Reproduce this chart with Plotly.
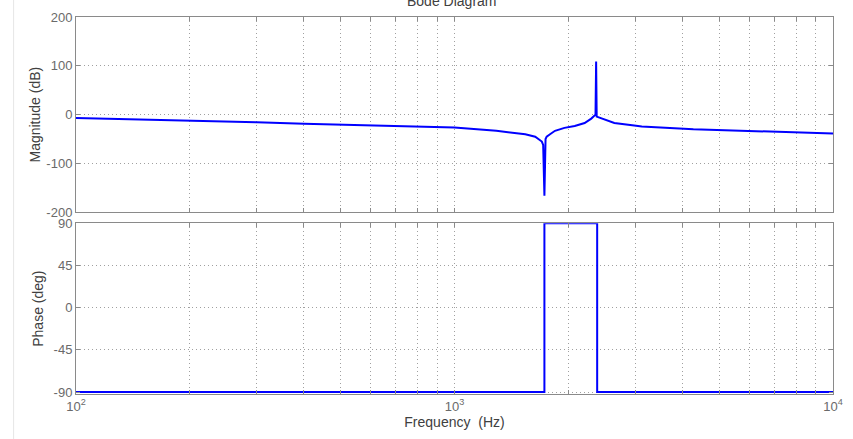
import plotly.graph_objects as go

# ---- data ----
mag_freq = [100, 150, 200, 300, 400, 600, 800, 1000, 1290, 1538, 1634, 1701, 1715,
            1728, 1740, 1752, 1788, 1843, 1952, 2078, 2207, 2298, 2358, 2367, 2375,
            2441, 2490, 2644, 2983, 3124, 4276, 6140, 7813, 10000]
mag_db = [-6.6, -9.5, -12.0, -15.5, -18.5, -22.0, -24.5, -26.5, -33.0, -40.0, -45.0, -55.0, -62.0,
          -166.0, -50.0, -45.0, -40.0, -33.0, -27.0, -23.0, -17.0, -8.0, 0.0, 109.0, -4.0,
          -7.0, -10.0, -17.0, -22.0, -24.0, -30.0, -34.0, -36.0, -38.5]

phase_freq = [100, 1728, 1728, 2382, 2382, 10000]
phase_deg = [-90, -90, 90, 90, -90, -90]

mag_ticks = [-200, -100, 0, 100, 200]
mag_labels = ["-200", "-100", "0", "100", "200"]
phase_ticks = [-90, -45, 0, 45, 90]
phase_labels = ["-90", "-45", "0", "45", "90"]
decades = [100, 1000, 10000]
decade_labels = ["10<sup>2</sup>", "10<sup>3</sup>", "10<sup>4</sup>"]

# ---- x tick positions (decades + minor) ----
xt_vals, xt_text = [], []
for d0 in decades[:-1]:
    for k in range(1, 10):
        xt_vals.append(d0 * k)
        xt_text.append(decade_labels[decades.index(d0)] if k == 1 else "")
xt_vals.append(decades[-1])
xt_text.append(decade_labels[-1])

BLUE = "#0000ff"
GRID = "#a0a0a0"
AXC = "#8a8a8a"
TICKC = "#6a6a6a"
FONT = "Liberation Sans, Arial, sans-serif"
DOT = "1px,3px"

fig = go.Figure()
fig.add_trace(go.Scatter(x=mag_freq, y=mag_db, mode="lines",
                         line=dict(color=BLUE, width=2), xaxis="x2", yaxis="y2",
                         showlegend=False, hoverinfo="skip"))
fig.add_trace(go.Scatter(x=phase_freq, y=phase_deg, mode="lines",
                         line=dict(color=BLUE, width=2), xaxis="x", yaxis="y",
                         showlegend=False, hoverinfo="skip"))

common_x = dict(type="log", range=[2, 4], tickvals=xt_vals, showgrid=True,
                gridcolor=GRID, griddash=DOT, gridwidth=1, showline=True,
                linecolor=AXC, linewidth=1, mirror="ticks", ticks="inside",
                ticklen=4, tickcolor=AXC, zeroline=False)
common_y = dict(showgrid=True, gridcolor=GRID, griddash=DOT, gridwidth=1,
                showline=True, linecolor=AXC, linewidth=1, mirror="ticks",
                ticks="inside", ticklen=4, tickcolor=AXC, zeroline=False,
                tickfont=dict(size=13, color=TICKC, family=FONT))

fig.update_layout(
    width=853, height=439,
    margin=dict(l=76, r=12, t=10, b=45),
    paper_bgcolor="white", plot_bgcolor="white",
    font=dict(family=FONT, color="#404040"),
    xaxis=dict(common_x, anchor="y", ticktext=xt_text, showticklabels=True,
               tickfont=dict(size=13, color=TICKC, family=FONT),
               title=dict(text="Frequency  (Hz)", font=dict(size=14, color="#404040"),
                          standoff=4)),
    xaxis2=dict(common_x, anchor="y2", matches="x", showticklabels=False),
    yaxis=dict(common_y, domain=[0, 0.453], range=[-92.1, 90], tickvals=phase_ticks,
               ticktext=phase_labels,
               title=dict(text="Phase (deg)", font=dict(size=14, color="#404040"),
                          standoff=6)),
    yaxis2=dict(common_y, domain=[0.4818, 1], range=[-200, 200], tickvals=mag_ticks,
                ticktext=mag_labels,
                title=dict(text="Magnitude (dB)", font=dict(size=14, color="#404040"),
                           standoff=2)),
    annotations=[dict(text="Bode Diagram", xref="paper", yref="paper", x=0.497,
                      y=1.042, xanchor="center", yanchor="middle", showarrow=False,
                      font=dict(size=14, color="#404040", family=FONT))],
    shapes=[dict(type="line", xref="paper", yref="paper", x0=-0.0824, x1=-0.0824,
                 y0=-0.2, y1=1.1, line=dict(color="#e6e6e6", width=1))],
)

fig.write_html("out.html")
